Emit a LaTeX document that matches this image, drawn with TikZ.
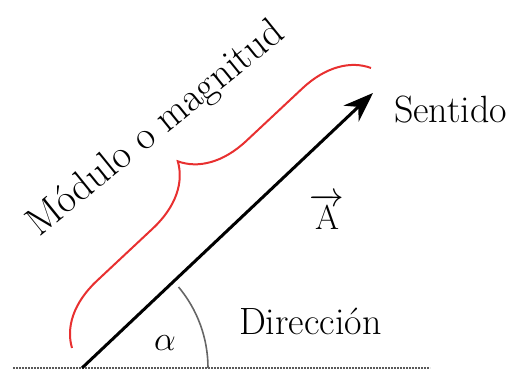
\documentclass[tikz,border=0pt]{standalone}
\usepackage{amsmath}
\usepackage{xcolor}
\usepackage{tikz}
\usetikzlibrary{arrows.meta,decorations.pathreplacing}
\definecolor{bracered}{RGB}{232,48,48}

\begin{document}
\begin{tikzpicture}[x=0.5pt, y=0.5pt, font=\fontsize{19}{23}\selectfont]
  \useasboundingbox (0,0) rectangle (521,373);
  \coordinate (o) at (82,5);
  \coordinate (tip) at (373,280);
  \coordinate (l) at (13,5);
  \coordinate (r) at (430,5);
  \coordinate (b1) at (72,25);
  \coordinate (b2) at (371,305);

  \draw[line width=1pt, gray!70!black, dash pattern=on 0.8pt off 0.7pt] (l) -- (r);
  \draw[line width=1.5pt, -{Stealth[length=15pt,width=11pt]}] (o) -- (tip);
  \draw[bracered, line width=1pt, decorate, decoration={brace, amplitude=32pt}] (b1) -- (b2);
  \draw[line width=0.8pt, gray!80!black] (o) ++(63pt,0) arc[start angle=0, end angle=40, radius=63pt];

  \node[anchor=base west] (sentido) at (387,250) {Sentido};
  \node[anchor=base] (vecA) at (327,143) {$\overrightarrow{\mathrm{A}}$};
  \node[anchor=base west] (direccion) at (232,38) {Dirección};
  \node[font=\fontsize{17}{20}\selectfont] (alpha) at (165,30) {$\alpha$};
  \node[anchor=base, rotate=39, font=\fontsize{20}{24}\selectfont] (modulo) at (163,236) {Módulo o magnitud};
\end{tikzpicture}
\end{document}
